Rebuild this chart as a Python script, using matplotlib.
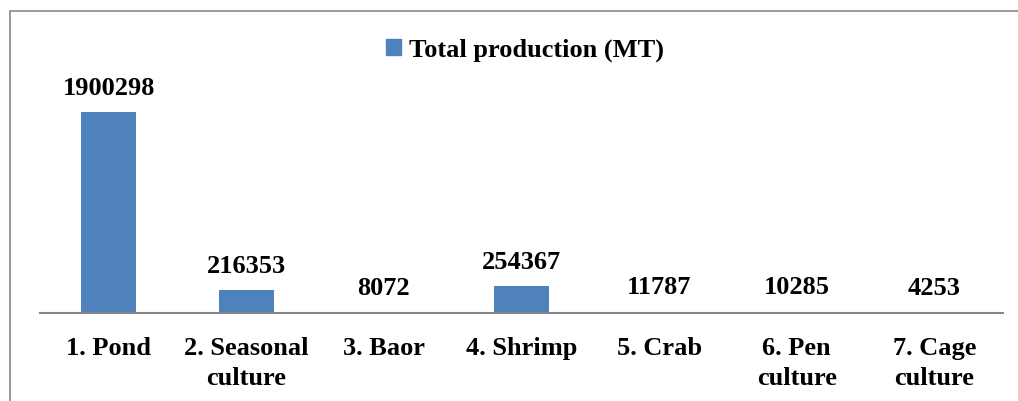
import matplotlib.pyplot as plt
from matplotlib.patches import Rectangle, Patch

categories = ["1. Pond", "2. Seasonal\nculture", "3. Baor", "4. Shrimp",
              "5. Crab", "6. Pen\nculture", "7. Cage\nculture"]
production = [1900298, 216353, 8072, 254367, 11787, 10285, 4253]

plt.rcParams['font.family'] = ['Liberation Serif', 'DejaVu Serif']
plt.rcParams['font.weight'] = 'bold'

W, H = 1018, 401
fig = plt.figure(figsize=(W / 100, H / 100), dpi=100)
ax = fig.add_axes([40 / W, 88 / H, 963 / W, 211.5 / H])

bar_color = '#4F81BD'
x = list(range(len(categories)))
bars = ax.bar(x, production, width=0.4, color=bar_color)

for xi, v in zip(x, production):
    ax.annotate(str(v), (xi, v), xytext=(0, 9), textcoords='offset points',
                ha='center', va='bottom', fontsize=19, fontweight='bold',
                annotation_clip=False)

ax.set_xlim(-0.5, len(categories) - 0.5)
ax.set_ylim(0, 2000000)
ax.set_xticks(x)
ax.set_xticklabels(categories, fontsize=19, fontweight='bold', linespacing=1.4)
ax.tick_params(axis='x', length=0, pad=17)
ax.set_yticks([])
for side in ['top', 'right', 'left']:
    ax.spines[side].set_visible(False)
ax.spines['bottom'].set_color('#868686')
ax.spines['bottom'].set_linewidth(1.5)

ax.legend(handles=[Patch(color=bar_color, label='Total production (MT)')],
          loc='center', bbox_to_anchor=(525 / W, 1 - 50 / H),
          bbox_transform=fig.transFigure, frameon=False,
          handlelength=0.6, handleheight=0.6, handletextpad=0.3,
          prop={'size': 19, 'weight': 'bold'})

# outer chart border
fig.patches.append(Rectangle((10 / W, -0.1), 1.2, (H - 11) / H + 0.1,
                             transform=fig.transFigure, fill=False,
                             edgecolor='#888888', linewidth=1.2))

fig.savefig('out.png', dpi=100)
